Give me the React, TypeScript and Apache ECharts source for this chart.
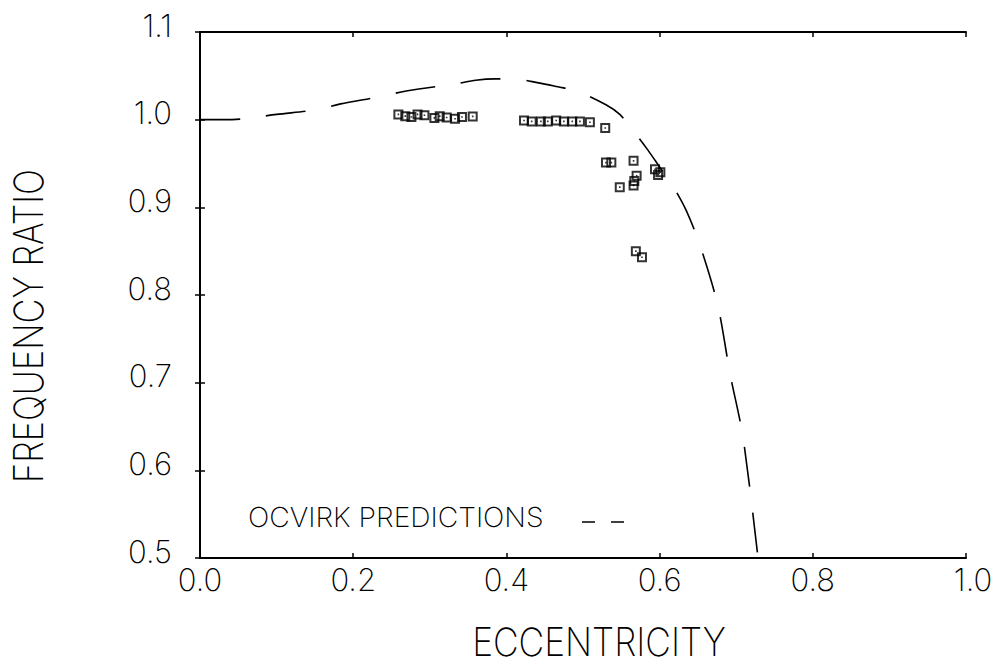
import React, { useEffect, useRef } from "react";
import * as echarts from "echarts";

// Measured test points
const eccentricity = [
  0.259, 0.268, 0.276, 0.284, 0.293, 0.306, 0.313, 0.322, 0.333, 0.342, 0.356,
  0.423, 0.433, 0.445, 0.454, 0.465, 0.475, 0.486, 0.496, 0.509, 0.529,
  0.530, 0.537, 0.566, 0.594, 0.598, 0.601, 0.570, 0.567, 0.566, 0.548, 0.569, 0.577,
];
const frequencyRatio = [
  1.006, 1.004, 1.003, 1.006, 1.005, 1.002, 1.004, 1.0025, 1.001, 1.003, 1.0037,
  0.999, 0.998, 0.998, 0.998, 0.999, 0.998, 0.998, 0.998, 0.997, 0.9905,
  0.951, 0.951, 0.953, 0.9435, 0.937, 0.94, 0.936, 0.93, 0.925, 0.923, 0.85, 0.843,
];

// Ocvirk predictions (dashed curve)
const ocvirkE = [
  0, 0.03, 0.058, 0.1, 0.15, 0.1835, 0.2335, 0.271, 0.334, 0.36, 0.385, 0.409,
  0.442, 0.467, 0.492, 0.53, 0.548, 0.565, 0.585, 0.6, 0.6175, 0.635, 0.653,
  0.676, 0.692, 0.709, 0.7285,
];
const ocvirkRatio = [
  1.0, 1.0, 1.001, 1.006, 1.011, 1.018, 1.026, 1.033, 1.041, 1.045, 1.0465, 1.0465,
  1.042, 1.0375, 1.0327, 1.017, 1.006, 0.988, 0.965, 0.946, 0.924, 0.896, 0.856,
  0.788, 0.71, 0.637, 0.5,
];

const xTicks = [0, 0.2, 0.4, 0.6, 0.8, 1.0];
const yTicks = [0.5, 0.6, 0.7, 0.8, 0.9, 1.0, 1.1];

const FONT = "Inter";
const WEIGHT = 200;
const SQUARE =
  "path://M0,0 H10 V10 H0 Z M2,2 V8 H8 V2 Z M4.2,4.2 H5.8 V5.8 H4.2 Z";

export default function App() {
  const ref = useRef<HTMLDivElement>(null);
  useEffect(() => {
    if (!ref.current) return;
    const chart = echarts.init(ref.current, undefined, { renderer: "svg" });
    const axisLine = { show: true, lineStyle: { color: "#000", width: 2 } };
    const tick = { show: true, inside: true, length: 5, lineStyle: { color: "#000", width: 1.5 } };
    chart.setOption({
      animation: false,
      backgroundColor: "#fff",
      grid: { left: 200, right: 35, top: 32, bottom: 111, outerBoundsMode: "none" },
      xAxis: [
        {
          type: "value",
          min: xTicks[0],
          max: xTicks[xTicks.length - 1],
          interval: 0.2,
          axisLine,
          axisTick: tick,
          splitLine: { show: false },
          axisLabel: {
            fontFamily: FONT,
            fontWeight: WEIGHT,
            fontSize: 31,
            color: "#000",
            margin: 6,
            formatter: (v: number) =>
              Math.abs(v - 1) < 1e-9 ? "{r|" + v.toFixed(1) + "}" : v.toFixed(1),
            rich: {
              r: { fontFamily: FONT, fontWeight: WEIGHT, fontSize: 31, color: "#000", padding: [0, 0, 0, 14] },
            },
          },
        },
        {
          type: "value",
          position: "top",
          min: 0,
          max: 1,
          interval: 0.2,
          axisLine,
          axisTick: tick,
          splitLine: { show: false },
          axisLabel: { show: false },
        },
      ],
      yAxis: [
        {
          type: "value",
          min: yTicks[0],
          max: yTicks[yTicks.length - 1],
          interval: 0.1,
          axisLine,
          axisTick: tick,
          splitLine: { show: false },
          axisLabel: {
            fontFamily: FONT,
            fontWeight: WEIGHT,
            fontSize: 31,
            color: "#000",
            margin: 28,
            verticalAlign: "bottom",
            lineHeight: 14,
            formatter: (v: number) => v.toFixed(1),
          },
        },
        {
          type: "value",
          position: "right",
          min: 0.5,
          max: 1.1,
          interval: 0.1,
          axisLine,
          axisTick: tick,
          splitLine: { show: false },
          axisLabel: { show: false },
        },
      ],
      series: [
        {
          type: "line",
          data: ocvirkE.map((e, i) => [e, ocvirkRatio[i]]),
          showSymbol: false,
          smooth: 0.3,
          lineStyle: { color: "#000", width: 1.6, type: [40, 26] },
          silent: true,
          z: 2,
        },
        {
          type: "scatter",
          data: eccentricity.map((e, i) => [e, frequencyRatio[i]]),
          symbol: SQUARE,
          symbolSize: 10,
          itemStyle: { color: "#000" },
          z: 3,
        },
      ],
      graphic: [
        {
          type: "text",
          x: 599,
          y: 642,
          scaleX: 1.14,
          scaleY: 1.25,
          style: {
            text: "ECCENTRICITY",
            fontFamily: FONT,
            fontWeight: WEIGHT,
            fontSize: 31,
            fill: "#000",
            align: "center",
            verticalAlign: "middle",
          },
        },
        {
          type: "text",
          x: 28,
          y: 326,
          rotation: Math.PI / 2,
          scaleX: 1.11,
          scaleY: 1.3,
          style: {
            text: "FREQUENCY RATIO",
            fontFamily: FONT,
            fontWeight: WEIGHT,
            fontSize: 31,
            fill: "#000",
            align: "center",
            verticalAlign: "middle",
          },
        },
        {
          type: "text",
          x: 248,
          y: 517,
          scaleX: 1.13,
          scaleY: 1.1,
          style: {
            text: "OCVIRK PREDICTIONS",
            fontFamily: FONT,
            fontWeight: WEIGHT,
            fontSize: 25,
            fill: "#000",
            align: "left",
            verticalAlign: "middle",
          },
        },
        {
          type: "line",
          shape: { x1: 582, y1: 522, x2: 626, y2: 522 },
          style: { stroke: "#000", lineWidth: 1.6, lineDash: [13, 16] },
        },
      ],
    });
    return () => chart.dispose();
  }, []);
  return (
    <div
      ref={ref}
      style={{ position: "absolute", left: 0, top: 0, width: 1001, height: 669, background: "#fff" }}
    />
  );
}
